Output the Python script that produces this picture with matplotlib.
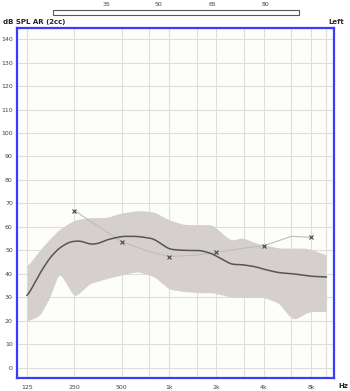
import matplotlib
matplotlib.use("Agg")
import matplotlib.pyplot as plt
import numpy as np
from matplotlib.patches import Rectangle

# ---- data ----
band_freq = [125, 150, 175, 200, 250, 315, 400, 500, 630, 800, 1000, 1250, 1600,
             1900, 2200, 2500, 2900, 3600, 4000, 5000, 5800, 6300, 7500, 8000, 10000]
band_upper = [43, 50, 55, 59, 63, 64, 64, 66, 67, 66.5, 63, 61, 61,
              61, 57, 54, 55.7, 53, 52.5, 51, 51, 51, 51, 50.5, 48]
band_lower = [20, 22, 30, 41, 30, 36, 38, 39.6, 41, 39, 33.5, 32.5, 32,
              32, 31, 30, 30, 30, 30, 27.6, 22, 20.5, 23.5, 24, 24]

mean_freq = [125, 150, 175, 200, 230, 250, 280, 315, 360, 400, 500, 630, 800, 1000,
             1250, 1600, 1900, 2200, 2500, 2900, 3600, 4000, 5000, 6300, 8000, 10000]
mean_vals = [30, 40, 47, 51, 53.5, 54, 54, 52.5, 53, 54.5, 56, 56, 55, 50.5,
             50, 50, 48.5, 46, 44, 44, 43, 42, 40.5, 40, 39, 38.7]

target_freq = [250, 500, 750, 1000, 1500, 2000, 3000, 4000, 6000, 8000]
target_vals = [67, 53.7, 49.5, 47.4, 48, 49.2, 51, 52, 56, 55.6]
marker_freq = [250, 500, 1000, 2000, 4000, 8000]
marker_vals = [67, 53.7, 47.4, 49.2, 52, 55.6]

major_ticks = [125, 250, 500, 1000, 2000, 4000, 8000]
major_labels = ["125", "250", "500", "1k", "2k", "4k", "8k"]
minor_ticks = [750, 1500, 3000, 6000, 10000]
y_ticks = list(range(0, 141, 10))
scale_labels = ["35", "50", "65", "80"]


def smooth_curve(freqs, vals, n=400, sigma=5):
    lf = np.log2(freqs)
    grid = np.linspace(lf[0], lf[-1], n)
    y = np.interp(grid, lf, vals)
    k = np.arange(-3 * sigma, 3 * sigma + 1)
    w = np.exp(-0.5 * (k / sigma) ** 2)
    w /= w.sum()
    yp = np.pad(y, 3 * sigma, mode="edge")
    ys = np.convolve(yp, w, mode="valid")
    return 2 ** grid, ys


W, H = 350, 391
fig = plt.figure(figsize=(W / 100, H / 100), dpi=100)
fig.patch.set_facecolor("white")


def fx(px):
    return px / W


def fy(py):
    return 1 - py / H


ax = fig.add_axes([fx(17), fy(378), fx(334) - fx(17), fy(28) - fy(378)])
ax.set_facecolor("#fdfdfa")
ax.set_xscale("log")
ax.set_xlim(108, 11200)
ax.set_ylim(-4.3, 144.7)

ax.set_xticks(major_ticks)
ax.set_xticklabels(major_labels)
ax.set_xticks(minor_ticks, minor=True)
ax.xaxis.set_minor_formatter(matplotlib.ticker.NullFormatter())
ax.set_yticks(y_ticks)
ax.tick_params(axis="both", which="both", length=0, labelsize=4.5, colors="#444444")
ax.tick_params(axis="x", pad=5)
ax.tick_params(axis="y", pad=3)
ax.grid(True, which="both", color="#dedede", linewidth=0.8)
ax.set_axisbelow(True)

for s in ax.spines.values():
    s.set_color("#3b3bff")
    s.set_linewidth(1.6)

bx, bu = smooth_curve(band_freq, band_upper, sigma=4)
_, bl = smooth_curve(band_freq, band_lower, sigma=3)
ax.fill_between(bx, bl, bu, color="#d5d0cd", linewidth=0, zorder=2)
ax.plot(target_freq, target_vals, color="#bdbdbd", linewidth=0.8, zorder=3)
mx, my = smooth_curve(mean_freq, mean_vals, sigma=4)
ax.plot(mx, my, color="#555555", linewidth=1.1, zorder=4)
ax.plot(marker_freq, marker_vals, linestyle="none", marker="x", markersize=3.5,
        markeredgewidth=0.8, color="#444444", zorder=5)

# top scale bar
fig.patches.append(Rectangle((fx(53), fy(15)), fx(299) - fx(53), fy(10) - fy(15),
                             transform=fig.transFigure, facecolor="white",
                             edgecolor="#555a55", linewidth=0.8))
for lbl, px in zip(scale_labels, [106, 158, 212, 265]):
    fig.text(fx(px), fy(4), lbl, fontsize=4.5, color="#444444", ha="center", va="center")

fig.text(fx(3), fy(22), "dB SPL AR (2cc)", fontsize=5, fontweight="bold",
         color="#222222", ha="left", va="center")
fig.text(fx(344), fy(22), "Left", fontsize=5, fontweight="bold",
         color="#3a2a2a", ha="right", va="center")
fig.text(fx(343), fy(386), "Hz", fontsize=5, fontweight="bold",
         color="#222222", ha="center", va="center")

fig.savefig("out.png", dpi=100)
